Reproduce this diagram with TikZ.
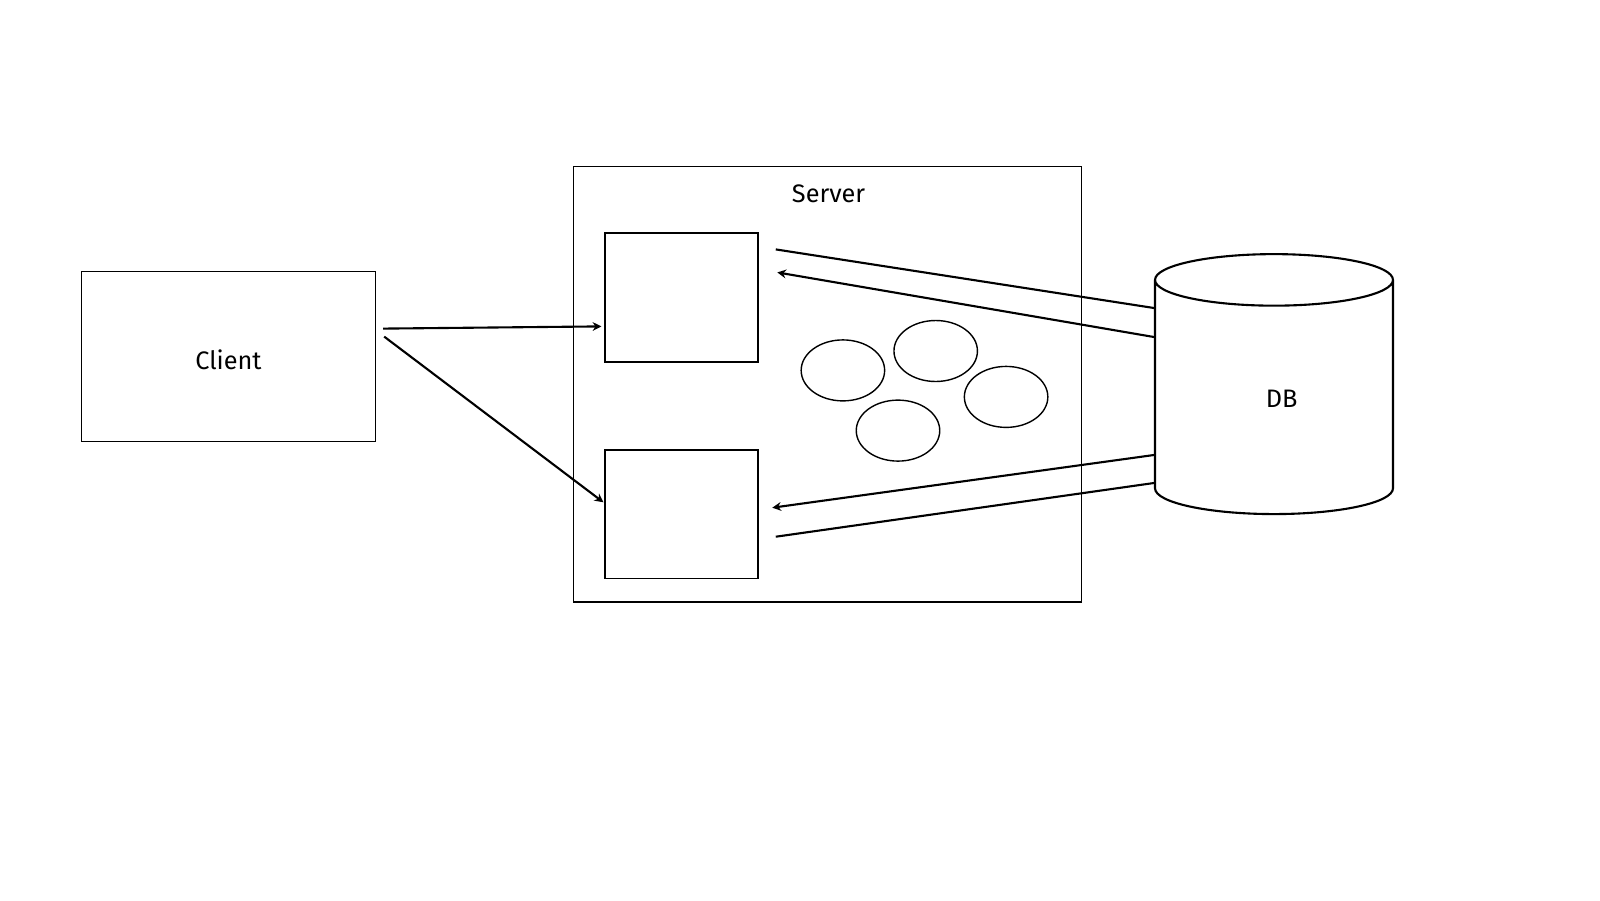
\documentclass[tikz,border=0pt]{standalone}
\usepackage{fontspec}
\setmainfont{Fira Sans}
\usetikzlibrary{positioning,arrows.meta,calc,shapes.geometric}
\tikzset{
  blk/.style={draw, line width=0.8pt, minimum width=3.06cm, minimum height=2.58cm},
  worker/.style={draw, ellipse, line width=0.8pt, minimum width=1.67cm, minimum height=1.22cm},
  flow/.style={-{Stealth[length=5pt, width=5pt]}, line width=1.2pt},
  link/.style={line width=1.2pt},
}
\begin{document}
\begin{tikzpicture}[x=0.02cm, y=-0.02cm, font=\fontsize{14.4}{17}\selectfont]
        \useasboundingbox (0,0) rectangle (1600,900);
        \node[draw, line width=0.8pt, minimum width=5.88cm, minimum height=3.4cm] (client) at (228.5,356.6) {};
        \node (clientlabel) at (228.5,360) {Client};
        \node[draw, line width=0.8pt, minimum width=10.16cm, minimum height=8.72cm] (server) at (827.5,384.2) {};
        \node (srvlabel) at (828.6,194) {Server};
        \node[blk] (top) at (681.6,297.4) {};
        \node[blk] (bot) at (681.6,514.3) {};
        \node[worker] (w1) at (842.9,370.4) {};
        \node[worker] (w2) at (935.7,351) {};
        \node[worker] (w3) at (1006.1,396.9) {};
        \node[worker] (w4) at (898,430.6) {};
        \node[draw, cylinder, shape border rotate=90, aspect=4.4, line width=1.2pt,
              minimum width=4.76cm, minimum height=5.2cm] (db) at (1274,401.5) {};
        \node (dblabel) at (1281.7,398.3) {DB};
        % client to server
        \draw[flow] ([shift={(7,-28)}]client.east) -- ([shift={(-3,29)}]top.west);
        \draw[flow] ([shift={(8,-20)}]client.east) -- ([shift={(-1,-12)}]bot.west);
        % server and db
        \draw[link] ($(db.west)+(0,-93.5)$) -- ([shift={(17,-48)}]top.east);
        \draw[flow] ($(db.west)+(0,-64.5)$) -- ([shift={(18.5,-25)}]top.east);
        \draw[flow] ($(db.west)+(0,53.5)$) -- ([shift={(13.5,-6.6)}]bot.east);
        \draw[link] ($(db.west)+(0,81.5)$) -- ([shift={(17,22.4)}]bot.east);
      \end{tikzpicture}
\end{document}
